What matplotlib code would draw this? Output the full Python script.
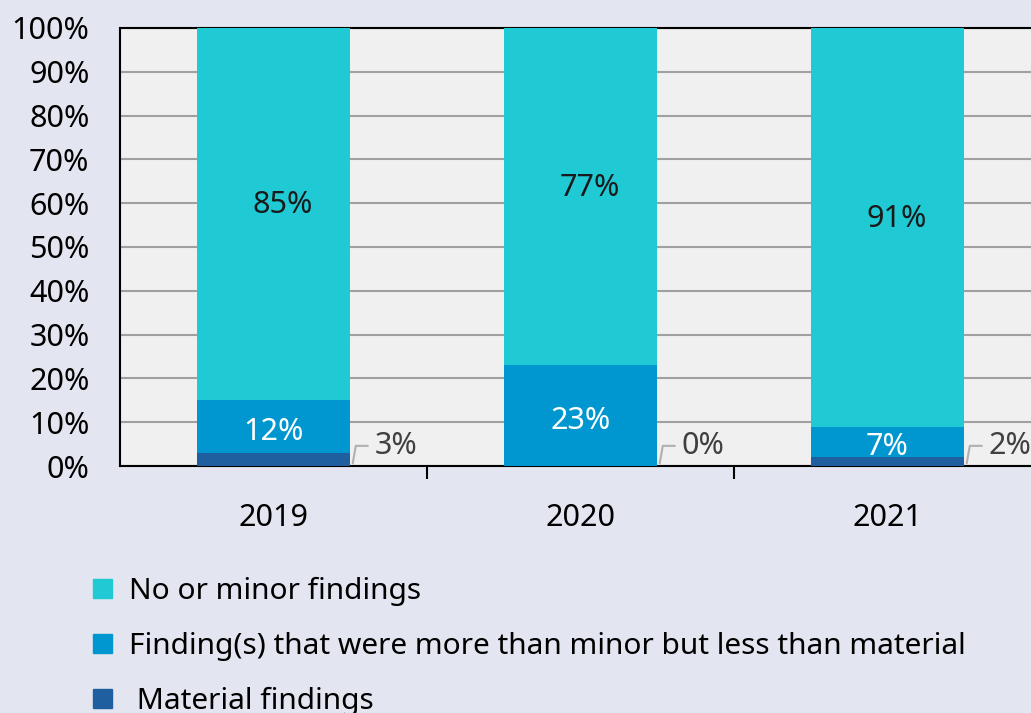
import numpy as np
import matplotlib
matplotlib.use("Agg")
import matplotlib.pyplot as plt
from matplotlib.patches import Patch

plt.rcParams['font.family'] = ['Noto Sans', 'DejaVu Sans']

# data
years = ["2019", "2020", "2021"]
material = [3, 0, 2]
more_than_minor = [12, 23, 7]
no_minor = [85, 77, 91]
series_names = ["No or minor findings",
                "Finding(s) that were more than minor but less than material",
                " Material findings"]

c_teal = '#1fcad5'
c_mid = '#0097d0'
c_dark = '#1f5e9f'
bg = '#e3e5f0'
fs = 22

fig = plt.figure(figsize=(10.31, 7.13), dpi=100, facecolor=bg)
ax = fig.add_axes([120 / 1031, 247 / 713, 921 / 1031, 438 / 713])
ax.set_facecolor('#f0f0f0')

x = np.arange(len(years))
w = 0.5
mat = np.array(material)
mid = np.array(more_than_minor)
top = np.array(no_minor)

ax.bar(x, mat, w, color=c_dark, zorder=3)
ax.bar(x, mid, w, bottom=mat, color=c_mid, zorder=3)
ax.bar(x, top, w, bottom=mat + mid, color=c_teal, zorder=3)

# labels inside bars
for i in range(len(years)):
    ax.text(x[i] + 0.03, mat[i] + mid[i] + top[i] / 2 + 2, f"{top[i]}%",
            ha='center', va='center', fontsize=fs, color='#1a1a1a', zorder=4)
    ax.text(x[i], mat[i] + mid[i] / 2 - 1.2, f"{mid[i]}%",
            ha='center', va='center', fontsize=fs, color='white', zorder=4)
    # material label outside with leader line
    ax.annotate(f"{mat[i]}%", xy=(x[i] + w / 2 + 0.008, 0.6),
                xytext=(x[i] + w / 2 + 0.08, 4.6),
                ha='left', va='center', fontsize=fs, color='#404040',
                arrowprops=dict(arrowstyle='-', color='#b0b0b0', lw=1.5,
                                shrinkA=3, shrinkB=0,
                                connectionstyle='angle,angleA=180,angleB=80,rad=0'),
                zorder=4, annotation_clip=False)

ax.set_xlim(-0.5, 2.5)
ax.set_ylim(0, 100)
ax.set_yticks(np.arange(0, 101, 10))
ax.set_yticklabels([f"{v}%" for v in range(0, 101, 10)], fontsize=fs)
ax.set_xticks(x)
ax.set_xticklabels(years, fontsize=fs)
ax.set_xticks([0.5, 1.5, 2.5], minor=True)
ax.tick_params(axis='x', which='major', length=0, pad=26.5)
ax.tick_params(axis='x', which='minor', length=9, width=1.5, color='black', direction='out')
ax.tick_params(axis='y', length=0, pad=22)

ax.grid(axis='y', color='#a0a0a0', linewidth=1.5, zorder=1)
for s in ['left', 'bottom', 'top']:
    ax.spines[s].set_color('black')
    ax.spines[s].set_linewidth(1.5)
ax.spines['right'].set_visible(False)

handles = [Patch(color=c_teal), Patch(color=c_mid), Patch(color=c_dark)]
fig.legend(handles, series_names, loc='upper left', bbox_to_anchor=(93 / 1031, 1 - 577 / 713),
           frameon=False, fontsize=21.5, handlelength=0.62, handleheight=0.62,
           handletextpad=0.6, labelspacing=0.87, borderpad=0, borderaxespad=0)

fig.savefig("out.png", dpi=100, facecolor=bg)
